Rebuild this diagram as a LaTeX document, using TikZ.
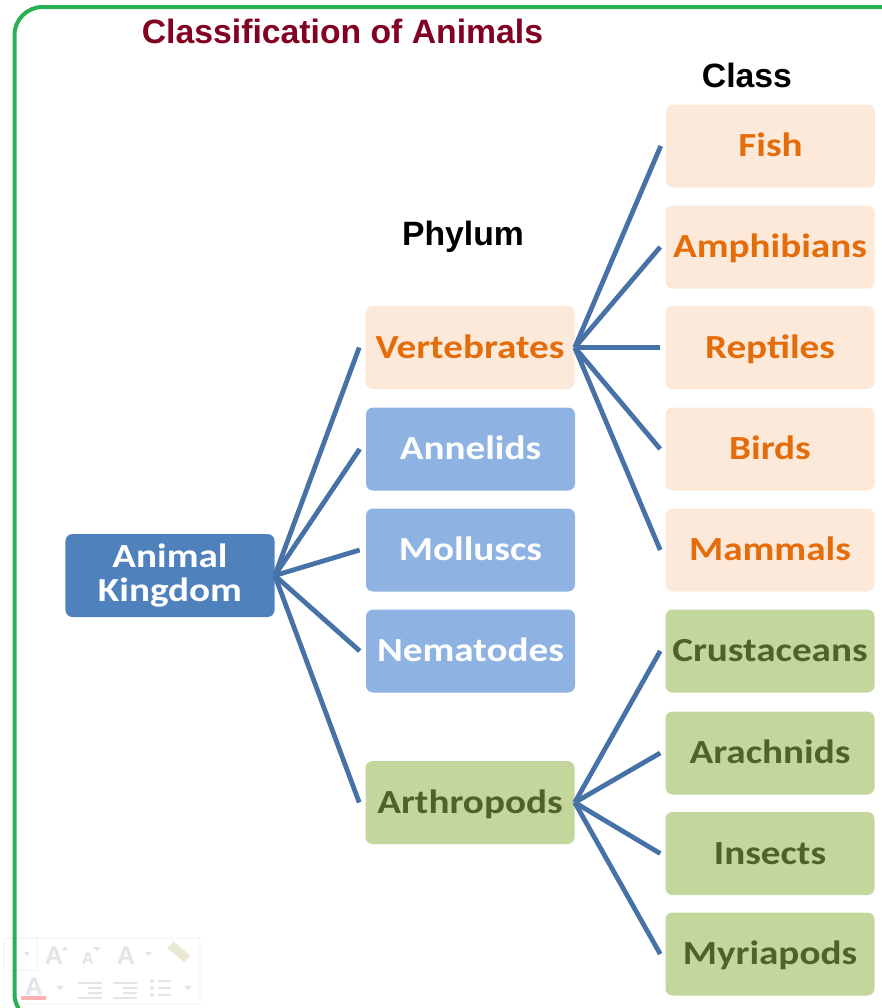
\documentclass[tikz,border=0pt]{standalone}
\usepackage{fontspec}
\setmainfont{Liberation Sans}
\newfontfamily\boxfont[FakeStretch=1.16]{Carlito}
\usetikzlibrary{positioning}
\definecolor{framerule}{HTML}{27B153}
\definecolor{titletext}{HTML}{820021}
\definecolor{linkblue}{HTML}{4672A8}
\definecolor{rootfill}{HTML}{4F81BD}
\definecolor{phylumfill}{HTML}{8EB3E2}
\definecolor{peachfill}{HTML}{FDE9D9}
\definecolor{orangetext}{HTML}{E46C0A}
\definecolor{greenfill}{HTML}{C3D69B}
\definecolor{greentext}{HTML}{4F6228}
\definecolor{toolgrey}{HTML}{E4E4E4}

\begin{document}
\begin{tikzpicture}[
  x=0.25mm, y=-0.25mm,
  every node/.style={align=center},
  animalbox/.style={
    rectangle, rounded corners=1.75mm,
    minimum width=52.25mm, minimum height=20.75mm,
    inner sep=0pt,
    font=\boxfont\bfseries\fontsize{24}{24}\selectfont
  },
  oneline/.style={animalbox, text height=6.25mm, text depth=1mm},
  rootbox/.style={animalbox, fill=rootfill, text=white},
  bluebox/.style={oneline, fill=phylumfill, text=white},
  peachbox/.style={oneline, fill=peachfill, text=orangetext},
  greenbox/.style={oneline, fill=greenfill, text=greentext},
  heading/.style={font=\bfseries\fontsize{24}{26}\selectfont, text=black},
  link/.style={draw=linkblue, line width=1.2mm},
  toolmark/.style={font=\bfseries\fontsize{18}{20}\selectfont, text=toolgrey, inner sep=0pt},
  toolrule/.style={draw=toolgrey, line width=0.4mm},
  toolcaret/.style={fill=toolgrey, draw=none}
]
\path[use as bounding box] (0,0) rectangle (882,1008);
\clip (0,0) rectangle (882,1008);

% --- faint toolbar left in the corner
\node[draw=toolgrey!60, line width=0.2mm, rounded corners=0.5mm, minimum width=49mm,
      minimum height=16.5mm] (toolbar) at (102,971) {};
\node[draw=toolgrey!50, line width=0.2mm, minimum width=8.25mm, minimum height=8mm] (fontfield) at (21,954) {};
\node[toolmark] (growa) at (54,956) {A};
\node[toolmark, font=\bfseries\fontsize{12}{13}\selectfont] (shrinka) at (88,959) {A};
\node[toolmark] (stylea) at (126,956) {A};
\node[toolmark] (colora) at (34,987) {A};
\draw[red!30, line width=1.1mm] (21,998) -- (46,998);
\fill[toolcaret] (62,950) -- (68,950) -- (65,946) -- cycle;
\fill[toolcaret] (93,947) -- (101,947) -- (97,951) -- cycle;
\fill[toolcaret] (145,952) -- (152,952) -- (148.5,956) -- cycle;
\fill[toolcaret] (24,952) -- (30,952) -- (27,956) -- cycle;
\fill[toolcaret] (56,986) -- (64,986) -- (60,990) -- cycle;
\fill[toolcaret] (184,986) -- (192,986) -- (188,990) -- cycle;
\fill[yellow!10!toolgrey, rotate around={-40:(180,952)}] (168,948) rectangle (190,957);
\draw[toolrule] (78,983) -- (102,983) (88,988) -- (102,988) (88,993) -- (102,993) (78,998) -- (102,998);
\draw[toolrule] (113,983) -- (137,983) (123,988) -- (137,988) (123,993) -- (137,993) (113,998) -- (137,998);
\draw[toolrule] (158,981) -- (171,981) (158,988) -- (171,988) (158,995) -- (171,995);
\fill[toolgrey] (152,981) circle (2) (152,988) circle (2) (152,995) circle (2);

% --- outer frame, runs off the right and bottom edges
\draw[framerule, line width=1mm, rounded corners=7mm] (900,7) -- (14.5,7) -- (14.5,1022) -- (900,1022);

% --- headings
\node[font=\bfseries\fontsize{24}{26}\selectfont, text=titletext] (title) at (342.5,31) {Classification of Animals};
\node[heading] (phylumhead) at (463,237) {Phylum};
\node[heading] (classhead) at (747,75) {Class};

% --- root
\node[rootbox] (kingdom) at (170,575.5) {Animal\\Kingdom};

% --- phyla
\node[peachbox] (vertebrates) at (470,347.5) {Vertebrates};
\node[bluebox] (annelids) at (470.5,449) {Annelids};
\node[bluebox] (molluscs) at (470.5,550) {Molluscs};
\node[bluebox] (nematodes) at (470.5,651) {Nematodes};
\node[greenbox] (arthropods) at (470,802.5) {Arthropods};

% --- classes
\node[peachbox] (fish) at (770.5,146) {Fish};
\node[peachbox] (amphibians) at (770,247) {Amphibians};
\node[peachbox] (reptiles) at (770,347.5) {Reptiles};
\node[peachbox] (birds) at (770,449) {Birds};
\node[peachbox] (mammals) at (770,550) {Mammals};
\node[greenbox] (crustaceans) at (770,651) {Crustaceans};
\node[greenbox] (arachnids) at (770,753) {Arachnids};
\node[greenbox] (insects) at (770,853.5) {Insects};
\node[greenbox] (myriapods) at (770,954) {Myriapods};

% --- connectors
\draw[link] (kingdom.east) -- ([xshift=-1.5mm]vertebrates.west);
\draw[link] (kingdom.east) -- ([xshift=-1.5mm]annelids.west);
\draw[link] (kingdom.east) -- ([xshift=-1.5mm]molluscs.west);
\draw[link] (kingdom.east) -- ([xshift=-1.5mm]nematodes.west);
\draw[link] (kingdom.east) -- ([xshift=-1.5mm]arthropods.west);

\draw[link] (vertebrates.east) -- ([xshift=-1.25mm]fish.west);
\draw[link] (vertebrates.east) -- ([xshift=-1.25mm]amphibians.west);
\draw[link] (vertebrates.east) -- ([xshift=-1.25mm]reptiles.west);
\draw[link] (vertebrates.east) -- ([xshift=-1.25mm]birds.west);
\draw[link] (vertebrates.east) -- ([xshift=-1.25mm]mammals.west);

\draw[link] (arthropods.east) -- ([xshift=-1.25mm]crustaceans.west);
\draw[link] (arthropods.east) -- ([xshift=-1.25mm]arachnids.west);
\draw[link] (arthropods.east) -- ([xshift=-1.25mm]insects.west);
\draw[link] (arthropods.east) -- ([xshift=-1.25mm]myriapods.west);

\end{tikzpicture}
\end{document}
